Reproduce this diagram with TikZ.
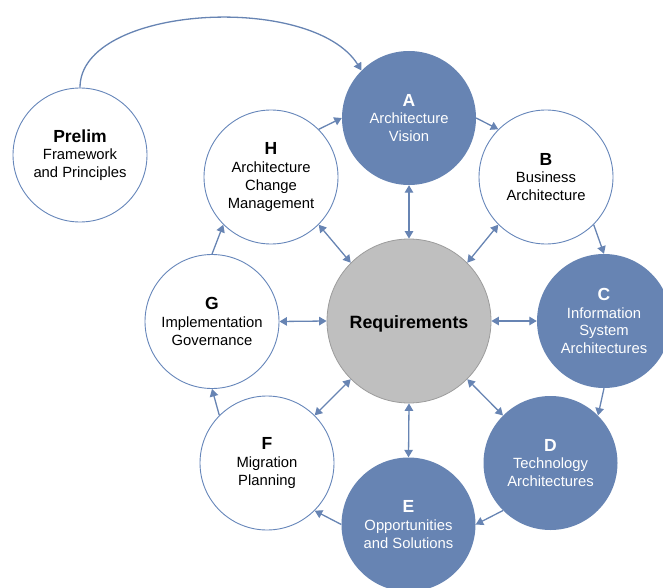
\documentclass[tikz,border=0pt]{standalone}
\usepackage{fontspec}
\setmainfont{Liberation Sans}
\usetikzlibrary{arrows.meta}
\definecolor{PhaseBlue}{HTML}{6784B3}
\definecolor{RingLine}{HTML}{6686BA}
\definecolor{ReqGray}{HTML}{BFBFBF}
\definecolor{ReqBorder}{HTML}{9C9C9C}
\newcommand{\phasehead}[1]{{\fontsize{17.5}{17.5}\selectfont\bfseries #1}}

\begin{document}
\begin{tikzpicture}[x=1pt, y=1pt,
    phase/.style={circle, minimum size=134pt, inner sep=0pt, align=center,
      font=\fontsize{14.8}{17.8}\selectfont},
    openphase/.style={phase, draw=RingLine, line width=0.9pt, fill=white, text=black},
    fullphase/.style={phase, fill=PhaseBlue, text=white},
    reqbox/.style={circle, minimum size=164pt, inner sep=0pt, fill=ReqGray, text height=18pt,
      draw=ReqBorder, line width=0.8pt, font=\fontsize{17.8}{20}\selectfont\bfseries},
    link/.style={draw=PhaseBlue, line width=1.3pt, -{Triangle[length=7.5pt,width=8.5pt]}},
    twoway/.style={link, {Triangle[length=7.5pt,width=8.5pt]}-{Triangle[length=7.5pt,width=8.5pt]}}]
  \useasboundingbox (0,0) rectangle (663,-588);

  % Phases
  \node[reqbox] (req) at (409,-321) {Requirements};
  \node[openphase] (prelim) at (80,-155) {\phasehead{Prelim}\\Framework\\and Principles};
  \node[fullphase] (a) at (409,-118) {\phasehead{A}\\Architecture\\Vision};
  \node[openphase] (b) at (546,-177) {\phasehead{B}\\Business\\Architecture};
  \node[fullphase] (c) at (604,-321) {\phasehead{C}\\Information\\System\\Architectures};
  \node[fullphase] (d) at (550.5,-463) {\phasehead{D}\\Technology\\Architectures};
  \node[fullphase] (e) at (408.5,-524.5) {\phasehead{E}\\Opportunities\\and Solutions};
  \node[openphase] (f) at (267,-463) {\phasehead{F}\\Migration\\Planning};
  \node[openphase] (g) at (212,-321.5) {\phasehead{G}\\Implementation\\Governance};
  \node[openphase] (h) at (271,-177) {\phasehead{H}\\Architecture\\Change\\Management};

  % Cycle
  \draw[link] (prelim.north) .. controls (80,-5) and (312,8) .. (a.north west);
  \draw[link] (a.east) -- (b.north west);
  \draw[link] (b.south east) -- (c.north);
  \draw[link] (c.south) -- (d.north east);
  \draw[link] (d.south west) -- (e.east);
  \draw[link] (e.west) -- (f.south east);
  \draw[link] (f.north west) -- (g.south);
  \draw[link] (g.north) -- (h.south west);
  \draw[link] (h.north east) -- (a.west);

  % Requirements links
  \draw[twoway] (a.south) -- (req.north);
  \draw[twoway] (b.south west) -- (req.north east);
  \draw[twoway] (c.west) -- (req.east);
  \draw[twoway] (d.north west) -- (req.south east);
  \draw[twoway] (e.north) -- (req.south);
  \draw[twoway] (f.north east) -- (req.south west);
  \draw[twoway] (g.east) -- (req.west);
  \draw[twoway] (h.south east) -- (req.north west);
\end{tikzpicture}
\end{document}
